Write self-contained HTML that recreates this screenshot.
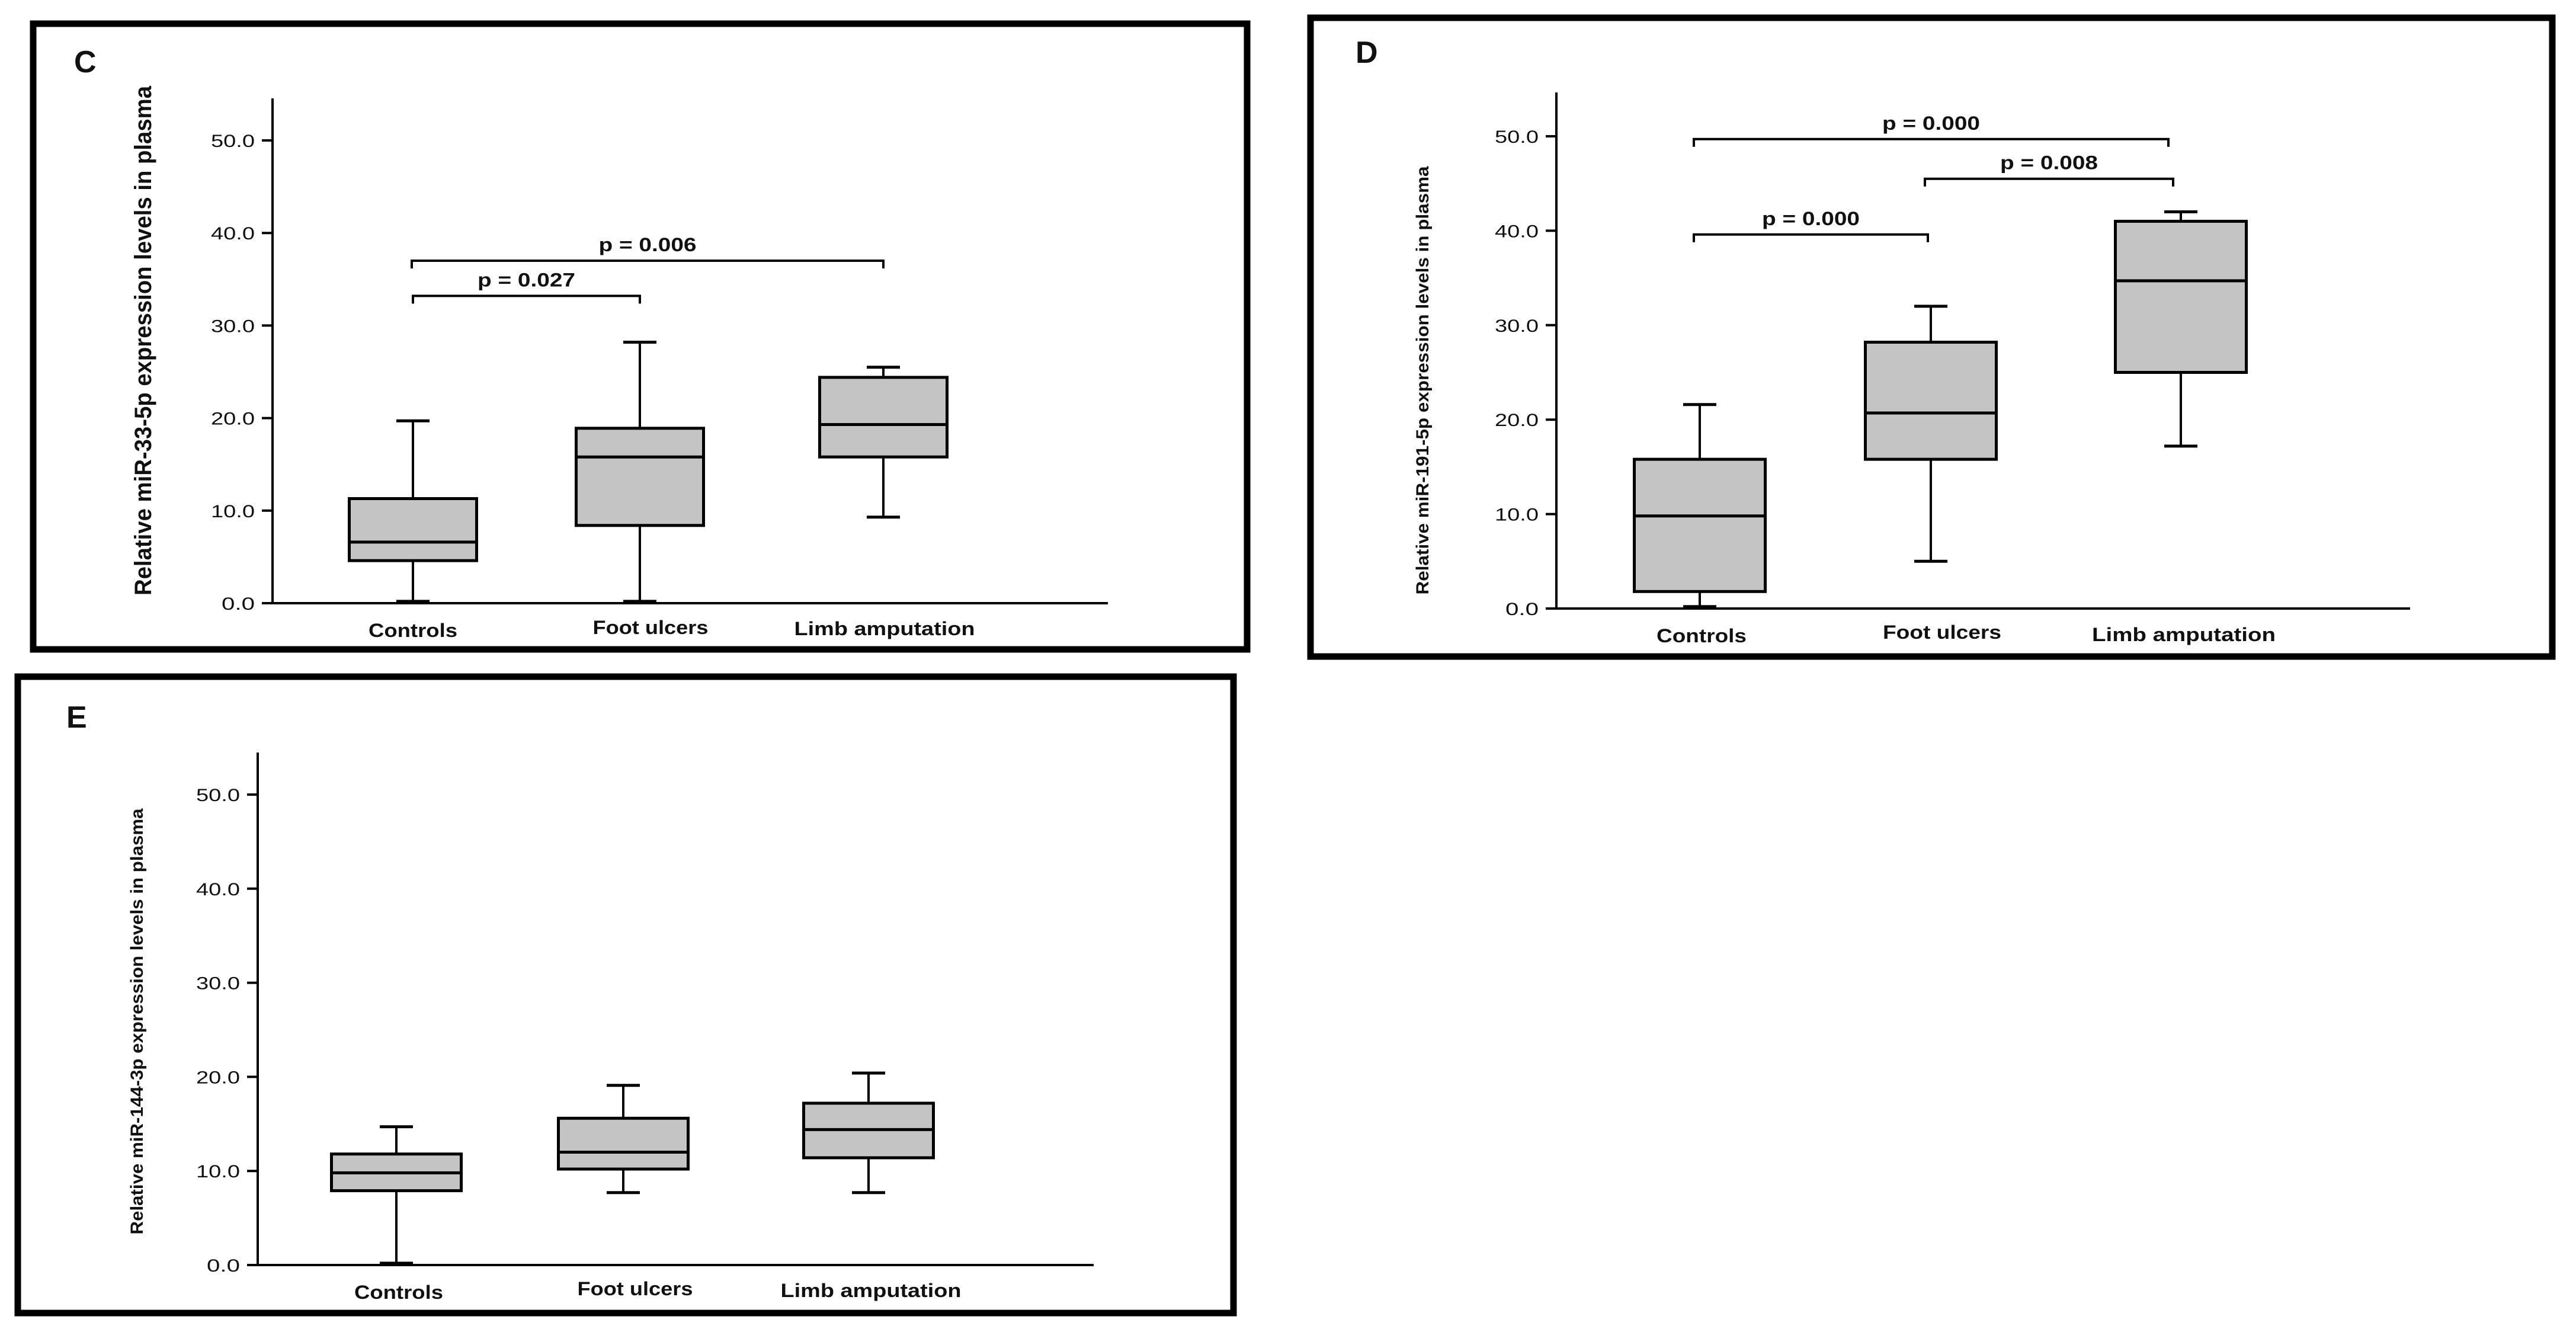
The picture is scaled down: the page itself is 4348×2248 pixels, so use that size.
<!DOCTYPE html>
<html><head><meta charset="utf-8"><style>
html,body{margin:0;padding:0;background:#fff;}
svg{display:block;}
text{font-family:"Liberation Sans",sans-serif;fill:#111;}
</style></head>
<body>
<svg id="fig" width="4348" height="2248" viewBox="0 0 4348 2248" xmlns="http://www.w3.org/2000/svg">
<rect x="0" y="0" width="4348" height="2248" fill="#fff"/>
</svg>
<script>
// Shared categories & ticks
const categories = ["Controls", "Foot ulcers", "Limb amputation"];
const tickValues = [0, 10, 20, 30, 40, 50];
const tickLabels = ["0.0", "10.0", "20.0", "30.0", "40.0", "50.0"];

// Panel C data (min, q1, median, q3, max)
const cMin = [0.2, 0.2, 9.3];
const cQ1 = [4.6, 8.4, 15.8];
const cMed = [6.6, 15.8, 19.3];
const cQ3 = [11.3, 18.9, 24.4];
const cMax = [19.7, 28.2, 25.5];
const cBracketFrom = [0, 0];
const cBracketTo = [1, 2];
const cBracketY = [33.2, 37.0];
const cBracketP = ["p = 0.027", "p = 0.006"];

// Panel D data
const dMin = [0.2, 5.0, 17.2];
const dQ1 = [1.8, 15.8, 25.0];
const dMed = [9.8, 20.7, 34.7];
const dQ3 = [15.8, 28.2, 41.0];
const dMax = [21.6, 32.0, 42.0];
const dBracketFrom = [0, 1, 0];
const dBracketTo = [2, 2, 1];
const dBracketY = [49.7, 45.5, 39.6];
const dBracketP = ["p = 0.000", "p = 0.008", "p = 0.000"];

// Panel E data
const eMin = [0.2, 7.7, 7.7];
const eQ1 = [7.9, 10.2, 11.4];
const eMed = [9.8, 12.0, 14.4];
const eQ3 = [11.8, 15.6, 17.2];
const eMax = [14.7, 19.1, 20.4];

const NS = "http://www.w3.org/2000/svg";
const svg = document.getElementById("fig");
function mk(tag, attrs, parent) {
  const e = document.createElementNS(NS, tag);
  for (const k in attrs) e.setAttribute(k, attrs[k]);
  (parent || svg).appendChild(e);
  return e;
}

function panel(cfg, mins, q1s, meds, q3s, maxs, bFrom, bTo, bY, bP) {
  const g = mk("g", {});
  
  
  const frame = mk("rect", {x: cfg.fx, y: cfg.fy, width: cfg.fw, height: cfg.fh, fill: "none", stroke: "#000", "stroke-width": 11}, g);
  
  
  const letter = mk("text", {x: cfg.lx, y: cfg.ly, "font-size": 52, "font-weight": "bold"}, g);
  letter.textContent = cfg.letter;
  
  

  const y = v => cfg.y0 - (cfg.y0 - cfg.y50) * v / 50;
  const x = i => cfg.cx[i];

  const yAxis = mk("line", {x1: cfg.ax, y1: cfg.atop, x2: cfg.ax, y2: cfg.y0 + 2, stroke: "#000", "stroke-width": 4}, g);
  
  
  const xAxis = mk("line", {x1: cfg.ax - 18, y1: cfg.y0, x2: cfg.axEnd, y2: cfg.y0, stroke: "#000", "stroke-width": 4}, g);
  
  

  tickValues.forEach((v, i) => {
    const t = mk("line", {x1: cfg.ax - 18, y1: y(v), x2: cfg.ax, y2: y(v), stroke: "#000", "stroke-width": 4}, g);
    
    
    const lb = mk("text", {x: cfg.ax - 30, y: y(v) + 11, "font-size": 30, "text-anchor": "end", textLength: i === 0 ? 56 : 74, lengthAdjust: "spacingAndGlyphs"}, g);
    lb.textContent = tickLabels[i];
    
    
  });

  const yt = mk("text", {x: 0, y: 0, "font-size": cfg.ytSize, "font-weight": "bold", "text-anchor": "middle", textLength: cfg.ytLen, lengthAdjust: "spacingAndGlyphs",
    transform: `translate(${cfg.ytx},${cfg.yty}) rotate(-90)`}, g);
  yt.textContent = cfg.ytitle;
  
  

  categories.forEach((c, i) => {
    const cl = mk("text", {x: cfg.lblx[i], y: cfg.lbly[i], "font-size": 32, "font-weight": "bold", "text-anchor": "middle", textLength: cfg.lblw[i], lengthAdjust: "spacingAndGlyphs"}, g);
    cl.textContent = c;
    
    
  });

  const bw = cfg.bw, cap = 56;
  categories.forEach((c, i) => {
    const bg = mk("g", {}, g);
    
    
    mk("line", {x1: x(i), y1: y(maxs[i]), x2: x(i), y2: y(q3s[i]), stroke: "#000", "stroke-width": 4}, bg);
    mk("line", {x1: x(i), y1: y(q1s[i]), x2: x(i), y2: y(mins[i]), stroke: "#000", "stroke-width": 4}, bg);
    mk("line", {x1: x(i) - cap / 2, y1: y(maxs[i]), x2: x(i) + cap / 2, y2: y(maxs[i]), stroke: "#000", "stroke-width": 5}, bg);
    mk("line", {x1: x(i) - cap / 2, y1: y(mins[i]), x2: x(i) + cap / 2, y2: y(mins[i]), stroke: "#000", "stroke-width": 5}, bg);
    mk("rect", {x: x(i) - bw / 2, y: y(q3s[i]), width: bw, height: y(q1s[i]) - y(q3s[i]), fill: "#c4c4c4", stroke: "#000", "stroke-width": 5}, bg);
    mk("line", {x1: x(i) - bw / 2, y1: y(meds[i]), x2: x(i) + bw / 2, y2: y(meds[i]), stroke: "#000", "stroke-width": 5}, bg);
  });

  if (bFrom) {
    bFrom.forEach((f, k) => {
      const t = bTo[k];
      const by = y(bY[k]);
      const x1 = x(f) + (cfg.boff ? cfg.boff[k][0] : 0), x2 = x(t) + (cfg.boff ? cfg.boff[k][1] : 0);
      const br = mk("path", {d: `M${x1},${by + 13} V${by} H${x2} V${by + 13}`, fill: "none", stroke: "#000", "stroke-width": 4}, g);
      
      
      const pl = mk("text", {x: (x1 + x2) / 2, y: by - 16, "font-size": 32, "font-weight": "bold", "text-anchor": "middle", textLength: 165, lengthAdjust: "spacingAndGlyphs"}, g);
      pl.textContent = bP[k];
      
      
    });
  }
}

panel({name: "panel-c", letter: "C", fx: 56, fy: 40, fw: 2049, fh: 1056, lx: 125, ly: 122,
  ax: 460, atop: 166, axEnd: 1870, y0: 1018, y50: 237, cx: [697, 1080, 1491], bw: 215,
  ytitle: "Relative miR-33-5p expression levels in plasma", ytSize: 40, ytLen: 860, ytx: 255, yty: 575,
  lblx: [697, 1098, 1493], lbly: [1075, 1070, 1072], lblw: [150, 195, 305],
  boff: [[0, 0], [-2, 0]]},
  cMin, cQ1, cMed, cQ3, cMax, cBracketFrom, cBracketTo, cBracketY, cBracketP);

panel({name: "panel-d", letter: "D", fx: 2212, fy: 30, fw: 2096, fh: 1078, lx: 2288, ly: 106,
  ax: 2627, atop: 156, axEnd: 4068, y0: 1027, y50: 230, cx: [2869, 3259, 3681], bw: 221,
  ytitle: "Relative miR-191-5p expression levels in plasma", ytSize: 30, ytLen: 723, ytx: 2411, yty: 642,
  lblx: [2872, 3278, 3686], lbly: [1084, 1078, 1082], lblw: [152, 200, 310],
  boff: [[-10, -21], [-10, -13], [-10, -5]]},
  dMin, dQ1, dMed, dQ3, dMax, dBracketFrom, dBracketTo, dBracketY, dBracketP);

panel({name: "panel-e", letter: "E", fx: 30, fy: 1142, fw: 2052, fh: 1074, lx: 112, ly: 1228,
  ax: 435, atop: 1270, axEnd: 1846, y0: 2135, y50: 1341, cx: [669, 1052, 1466], bw: 219,
  ytitle: "Relative miR-144-3p expression levels in plasma", ytSize: 30, ytLen: 719, ytx: 241, yty: 1724,
  lblx: [673, 1072, 1470], lbly: [2192, 2186, 2189], lblw: [150, 195, 305]},
  eMin, eQ1, eMed, eQ3, eMax, null, null, null, null);
</script>
</body></html>
